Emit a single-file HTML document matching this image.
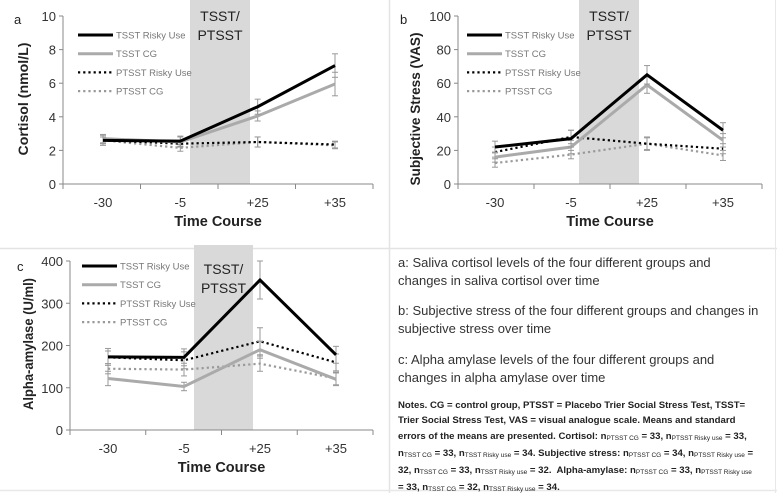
<!DOCTYPE html>
<html><head><meta charset="utf-8">
<style>
body{margin:0;background:#fff;font-family:"Liberation Sans",sans-serif;}
#wrap{position:relative;width:777px;height:493px;overflow:hidden;background:#fff;}
svg{position:absolute;left:0;top:0;}
.t{position:absolute;left:398px;font-size:13px;color:#333;white-space:nowrap;line-height:18px;}
.n{position:absolute;left:398px;font-size:9.6px;font-weight:bold;color:#222;white-space:nowrap;}
.n sub{font-size:6.5px;font-weight:normal;vertical-align:-1px;}
</style></head><body>
<div id="wrap">
<svg id="svg" width="777" height="493"></svg>
<div class="t" style="top:254px">a: Saliva cortisol levels of the four different groups and<br>changes in saliva cortisol over time</div>
<div class="t" style="top:302px">b: Subjective stress of the four different groups and changes in<br>subjective stress over time</div>
<div class="t" style="top:351px">c: Alpha amylase levels of the four different groups and<br>changes in alpha amylase over time</div>
<div class="n" style="top:398px;line-height:15.3px">Notes. CG = control group, PTSST = Placebo Trier Social Stress Test, TSST=<br>Trier Social Stress Test, VAS = visual analogue scale. Means and standard<br>errors of the means are presented. Cortisol: n<sub>PTSST CG</sub> = 33, n<sub>PTSST Risky use</sub> = 33,<br>n<sub>TSST CG</sub> = 33, n<sub>TSST Risky use</sub> = 34. Subjective stress: n<sub>PTSST CG</sub> = 34, n<sub>PTSST Risky use</sub> =<br>32, n<sub>TSST CG</sub> = 33, n<sub>TSST Risky use</sub> = 32.&nbsp; Alpha-amylase: n<sub>PTSST CG</sub> = 33, n<sub>PTSST Risky use</sub><br>= 33, n<sub>TSST CG</sub> = 32, n<sub>TSST Risky use</sub> = 34.</div>
</div>
<script>
const categories = ["-30","-5","+25","+35"];
const seriesNames = ["TSST Risky Use","TSST CG","PTSST Risky Use","PTSST CG"];
// panel a: cortisol
const cortTsstRisky = [2.6,2.55,4.6,7.05];
const cortTsstCG = [2.7,2.5,4.05,5.95];
const cortPtsstRisky = [2.6,2.4,2.5,2.35];
const cortPtsstCG = [2.6,2.15,2.5,2.3];
const cortErrRisky = [0.3,0.3,0.45,0.7];
const cortErrCG = [0.25,0.3,0.3,0.7];
const cortErrPRisky = [0.2,0.2,0.3,0.2];
const cortErrPCG = [0.2,0.2,0.3,0.2];
const cortTicks = [0,2,4,6,8,10];
// panel b: subjective stress
const vasTsstRisky = [22,27,65,32];
const vasTsstCG = [16,22,59,26];
const vasPtsstRisky = [19,28,24,21];
const vasPtsstCG = [12.5,17.5,24,17];
const vasErrRisky = [3.5,5,5.5,4.5];
const vasErrCG = [3,4,5,4];
const vasErrPRisky = [3,4,4,3];
const vasErrPCG = [2.5,2.5,3.5,3];
const vasTicks = [0,20,40,60,80,100];
// panel c: alpha-amylase
const amyTsstRisky = [173,172,355,178];
const amyTsstCG = [122,103,190,120];
const amyPtsstRisky = [172,165,210,160];
const amyPtsstCG = [145,143,157,122];
const amyErrRisky = [20,20,45,20];
const amyErrCG = [17,10,20,15];
const amyErrPRisky = [15,20,32,20];
const amyErrPCG = [12,15,18,15];
const amyTicks = [0,100,200,300,400];

const NS="http://www.w3.org/2000/svg";
const svg=document.getElementById('svg');
function mk(tag,attrs,parent){const e=document.createElementNS(NS,tag);for(const k in attrs)e.setAttribute(k,attrs[k]);(parent||svg).appendChild(e);return e;}
function txt(s,attrs,parent){const e=mk('text',attrs,parent);e.textContent=s;return e;}

mk('line',{x1:0,y1:248.5,x2:777,y2:248.5,stroke:'#e3e3e3','stroke-width':1.5});
mk('line',{x1:389.5,y1:0,x2:389.5,y2:493,stroke:'#e3e3e3','stroke-width':1.5});
mk('line',{x1:0,y1:490.5,x2:777,y2:490.5,stroke:'#e8e8e8','stroke-width':1.5});
mk('line',{x1:775.5,y1:0,x2:775.5,y2:493,stroke:'#e8e8e8','stroke-width':1});

const styles=[
 {stroke:'#000',w:3,dash:null},
 {stroke:'#aaa',w:3,dash:null},
 {stroke:'#000',w:2.2,dash:'2.2,3'},
 {stroke:'#999',w:2.2,dash:'2.2,3'}];

function panel(cfg){
 const g=mk('g',{});
 
 
 const {x0,x1,yTop,yBot,cats,max}=cfg;
 const cx=i=>cfg.catX[0]+(cfg.catX[3]-cfg.catX[0])*i/3;
 const y=v=>yBot-(v/max)*(yBot-yTop);
 const sh=mk('rect',{x:cfg.sx0,y:yTop-16,width:cfg.sx1-cfg.sx0,height:yBot-yTop+16,fill:'#d9d9d9'},g);
 
 
 const st=txt('TSST/',{x:(cfg.sx0+cfg.sx1)/2,y:cfg.stY,'font-size':14,fill:'#222','text-anchor':'middle'},g);
 
 
 txt('PTSST',{x:(cfg.sx0+cfg.sx1)/2,y:cfg.stY+19,'font-size':14,fill:'#222','text-anchor':'middle'},g);
 mk('line',{x1:x0,y1:yTop,x2:x0,y2:yBot,stroke:'#888','stroke-width':1},g);
 mk('line',{x1:x0,y1:yBot,x2:x1,y2:yBot,stroke:'#888','stroke-width':1},g);
 cfg.ticks.forEach(t=>{
  mk('line',{x1:x0-4,y1:y(t),x2:x0,y2:y(t),stroke:'#888'},g);
  const l=txt(String(t),{x:x0-7,y:y(t)+5,'font-size':13,fill:'#333','text-anchor':'end'},g);
  
  
 });
 for(let i=0;i<=4;i++){const tx=x0+(x1-x0)*i/4;mk('line',{x1:tx,y1:yBot,x2:tx,y2:yBot+5,stroke:'#888'},g);}
 cats.forEach((c,i)=>{
  const l=txt(c,{x:cx(i),y:yBot+23,'font-size':13,fill:'#333','text-anchor':'middle'},g);
  
  
 });
 const xt=txt('Time Course',{x:(x0+x1)/2,y:yBot+42,'font-size':14.5,'font-weight':'bold',fill:'#222','text-anchor':'middle'},g);
 
 
 const yl=txt(cfg.ylabel,{x:0,y:0,'font-size':14,'font-weight':'bold',fill:'#222','text-anchor':'middle',textLength:cfg.ylen,lengthAdjust:'spacingAndGlyphs',transform:`translate(${cfg.ylx},${cfg.ylc}) rotate(-90)`},g);
 
 
 const pl=txt(cfg.letter,{x:cfg.lx,y:cfg.ly,'font-size':13,fill:'#222'},g);
 
 
 for(let s=3;s>=0;s--){
  const vals=cfg.series[s], errs=cfg.errs[s], st=styles[s];
  const eg=mk('g',{},g);
  
  
  vals.forEach((v,i)=>{
   const x=cx(i),ya=y(v+errs[i]),yb=y(v-errs[i]);
   mk('line',{x1:x,y1:ya,x2:x,y2:yb,stroke:'#999','stroke-width':1},eg);
   mk('line',{x1:x-3,y1:ya,x2:x+3,y2:ya,stroke:'#999','stroke-width':1},eg);
   mk('line',{x1:x-3,y1:yb,x2:x+3,y2:yb,stroke:'#999','stroke-width':1},eg);
  });
  const pts=vals.map((v,i)=>cx(i)+','+y(v)).join(' ');
  const a={points:pts,fill:'none',stroke:st.stroke,'stroke-width':st.w};
  if(st.dash)a['stroke-dasharray']=st.dash;
  const p=mk('polyline',a,g);
  
  
 }
 seriesNames.forEach((n,s)=>{
  const ly=cfg.legY+s*18.7, st=styles[s];
  const lg=mk('g',{},g);
  
  
  const a={x1:cfg.legX,y1:ly,x2:cfg.legX+35,y2:ly,stroke:st.stroke,'stroke-width':st.w};
  if(st.dash)a['stroke-dasharray']=st.dash;
  mk('line',a,lg);
  txt(n,{x:cfg.legX+38,y:ly+3.5,'font-size':9.5,fill:'#777'},lg);
 });
}

panel({name:'chart-cortisol',x0:63,x1:373,yTop:16,yBot:184,catX:[103,180,258,335],cats:categories,max:10,ticks:cortTicks,
 series:[cortTsstRisky,cortTsstCG,cortPtsstRisky,cortPtsstCG],errs:[cortErrRisky,cortErrCG,cortErrPRisky,cortErrPCG],
 sx0:190,sx1:250,stY:21,ylabel:'Cortisol (nmol/L)',ylx:28,ylc:99,ylen:113,letter:'a',lx:14,ly:24,legX:78,legY:35});
panel({name:'chart-subjective-stress',x0:458,x1:762,yTop:16,yBot:184,catX:[495,570,648,723],cats:categories,max:100,ticks:vasTicks,
 series:[vasTsstRisky,vasTsstCG,vasPtsstRisky,vasPtsstCG],errs:[vasErrRisky,vasErrCG,vasErrPRisky,vasErrPCG],
 sx0:579,sx1:639,stY:21,ylabel:'Subjective Stress (VAS)',ylx:420,ylc:109,ylen:153,letter:'b',lx:400,ly:24,legX:467,legY:35});
panel({name:'chart-alpha-amylase',x0:70,x1:373,yTop:261,yBot:430,catX:[108,185,259,336],cats:categories,max:400,ticks:amyTicks,
 series:[amyTsstRisky,amyTsstCG,amyPtsstRisky,amyPtsstCG],errs:[amyErrRisky,amyErrCG,amyErrPRisky,amyErrPCG],
 sx0:194,sx1:253,stY:274,ylabel:'Alpha-amylase (U/ml)',ylx:33,ylc:344,ylen:132,letter:'c',lx:17,ly:271,legX:82,legY:266});
</script>
</body></html>
